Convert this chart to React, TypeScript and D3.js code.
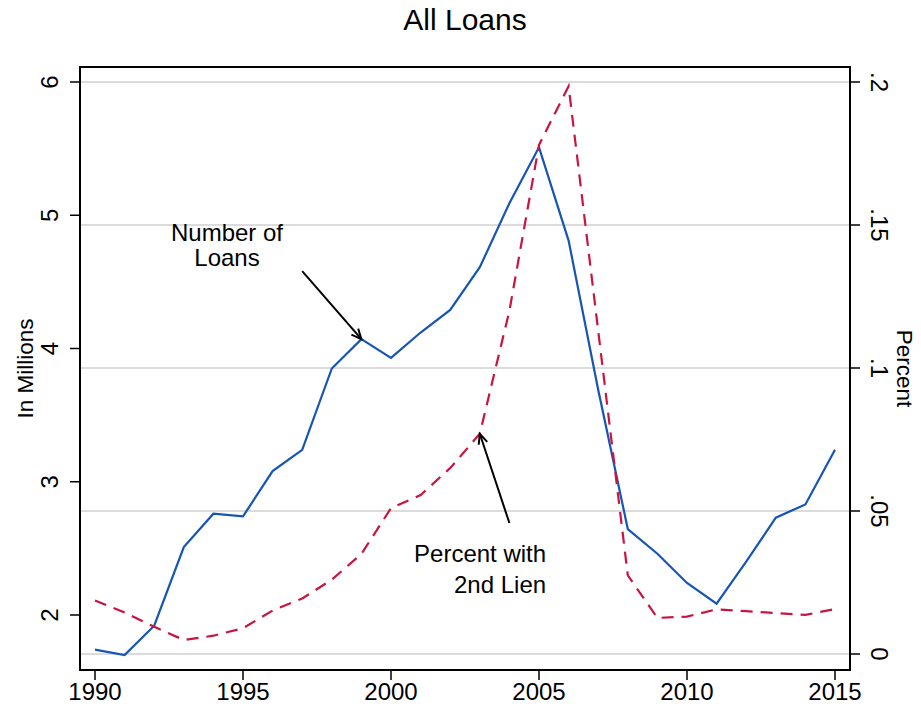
import React from "react";
import * as d3 from "d3";

// years on the x axis
const years = [
  1990, 1991, 1992, 1993, 1994, 1995, 1996, 1997, 1998, 1999, 2000, 2001, 2002,
  2003, 2004, 2005, 2006, 2007, 2008, 2009, 2010, 2011, 2012, 2013, 2014, 2015,
];
// number of loans, in millions (left axis)
const loans = [
  1.74, 1.7, 1.92, 2.51, 2.76, 2.74, 3.08, 3.24, 3.85, 4.07, 3.93, 4.12, 4.29,
  4.61, 5.09, 5.51, 4.81, 3.69, 2.645, 2.46, 2.24, 2.085, 2.4, 2.73, 2.83, 3.24,
];
// share with a 2nd lien (right axis)
const pctSecond = [
  0.0187, 0.0145, 0.0095, 0.0049, 0.0064, 0.009, 0.0152, 0.0194, 0.026, 0.035,
  0.051, 0.0556, 0.065, 0.077, 0.12, 0.178, 0.1985, 0.113, 0.0275, 0.0126,
  0.0131, 0.0156, 0.015, 0.0143, 0.0137, 0.0157,
];
const xTicks = [1990, 1995, 2000, 2005, 2010, 2015];
const leftTicks = [2, 3, 4, 5, 6];
const rightTicks = [0, 0.05, 0.1, 0.15, 0.2];
const rightTickLabels = ["0", ".05", ".1", ".15", ".2"];

const W = 921;
const H = 710;
const FONT = "'Liberation Sans', Arial, Helvetica, sans-serif";
const BLUE = "#1655b5";
const RED = "#c8143f";

const frame = { left: 80, right: 850, top: 67, bottom: 670 };

const x = d3.scaleLinear().domain([1990, 2015]).range([95, 835]);
const yL = d3.scaleLinear().domain([2, 6]).range([615, 82]);
const yR = d3.scaleLinear().domain([0, 0.2]).range([654, 82]);

const loanLine = d3
  .line<number>()
  .x((_, i) => x(years[i]))
  .y((d) => yL(d));
const pctLine = d3
  .line<number>()
  .x((_, i) => x(years[i]))
  .y((d) => yR(d));

// open "V" arrowhead like Stata's
function Arrow({ x1, y1, x2, y2 }: { x1: number; y1: number; x2: number; y2: number }) {
  const ang = Math.atan2(y2 - y1, x2 - x1);
  const len = 11;
  const spread = 0.42;
  const a1 = ang + Math.PI - spread;
  const a2 = ang + Math.PI + spread;
  return (
    <g stroke="#000" strokeWidth={2} fill="none">
      <line x1={x1} y1={y1} x2={x2} y2={y2} />
      <polyline
        points={`${x2 + len * Math.cos(a1)},${y2 + len * Math.sin(a1)} ${x2},${y2} ${
          x2 + len * Math.cos(a2)
        },${y2 + len * Math.sin(a2)}`}
      />
    </g>
  );
}

export default function App() {
  return (
    <svg
      width={W}
      height={H}
      style={{ position: "absolute", left: 0, top: 0, background: "#fff" }}
      fontFamily={FONT}
    >
      <rect width={W} height={H} fill="#fff" />
      <text x={(frame.left + frame.right) / 2} y={30} fontSize={30} textAnchor="middle">
        All Loans
      </text>

      {/* gridlines follow the right axis */}
      {rightTicks.map((t) => (
        <line
          key={"g" + t}
          x1={frame.left}
          x2={frame.right}
          y1={yR(t)}
          y2={yR(t)}
          stroke="#dcdcdc"
          strokeWidth={2}
        />
      ))}

      <path d={loanLine(loans) || ""} fill="none" stroke={BLUE} strokeWidth={2.2} />
      <path
        d={pctLine(pctSecond) || ""}
        fill="none"
        stroke={RED}
        strokeWidth={2.2}
        strokeDasharray="12 8"
      />

      <rect
        x={frame.left}
        y={frame.top}
        width={frame.right - frame.left}
        height={frame.bottom - frame.top}
        fill="none"
        stroke="#000"
        strokeWidth={2}
      />

      {/* left axis */}
      {leftTicks.map((t) => (
        <g key={"l" + t}>
          <line x1={frame.left - 10} x2={frame.left} y1={yL(t)} y2={yL(t)} stroke="#000" strokeWidth={1.5} />
          <text
            transform={`translate(58,${yL(t)}) rotate(-90)`}
            fontSize={24}
            textAnchor="middle"
          >
            {t}
          </text>
        </g>
      ))}
      <text
        transform={`translate(33,${(frame.top + frame.bottom) / 2}) rotate(-90)`}
        fontSize={22.5}
        textAnchor="middle"
      >
        In Millions
      </text>

      {/* right axis */}
      {rightTicks.map((t, i) => (
        <g key={"r" + t}>
          <line x1={frame.right} x2={frame.right + 10} y1={yR(t)} y2={yR(t)} stroke="#000" strokeWidth={1.5} />
          <text
            transform={`translate(871,${yR(t)}) rotate(90)`}
            fontSize={24}
            textAnchor="middle"
          >
            {rightTickLabels[i]}
          </text>
        </g>
      ))}
      <text
        transform={`translate(897,${(frame.top + frame.bottom) / 2}) rotate(90)`}
        fontSize={22.5}
        textAnchor="middle"
      >
        Percent
      </text>

      {/* bottom axis */}
      {xTicks.map((t) => (
        <g key={"x" + t}>
          <line x1={x(t)} x2={x(t)} y1={frame.bottom} y2={frame.bottom + 10} stroke="#000" strokeWidth={1.5} />
          <text x={x(t)} y={700} fontSize={24} textAnchor="middle">
            {t}
          </text>
        </g>
      ))}

      {/* annotations */}
      <text x={x(1994.46)} fontSize={24} textAnchor="middle">
        <tspan y={yL(4.81)}>Number of</tspan>
        <tspan x={x(1994.46)} y={yL(4.62)}>
          Loans
        </tspan>
      </text>
      <Arrow x1={x(1997)} y1={yL(4.58)} x2={x(1999)} y2={yL(4.07)} />

      <text x={x(2005.24)} fontSize={24} textAnchor="end">
        <tspan y={yR(0.0322)}>Percent with</tspan>
        <tspan x={x(2005.24)} y={yR(0.0213)}>
          2nd Lien
        </tspan>
      </text>
      <Arrow x1={x(2004)} y1={yR(0.0458)} x2={x(2003)} y2={yR(0.077)} />
    </svg>
  );
}
